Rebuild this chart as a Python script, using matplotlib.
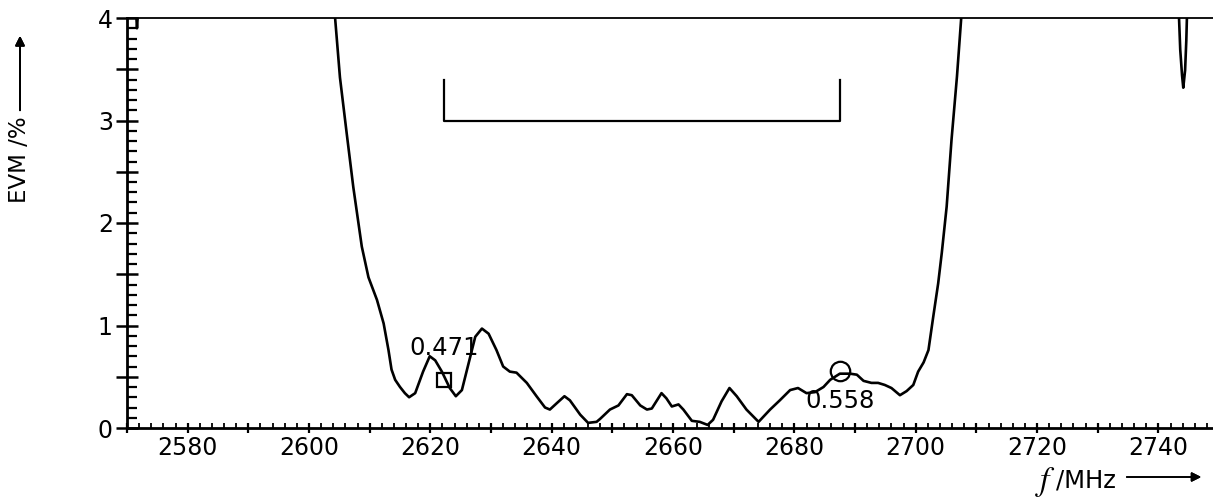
import matplotlib.pyplot as plt
from matplotlib.ticker import MultipleLocator

# ---------------- data ----------------
freq = [2604.3, 2605.1, 2606.2, 2607.3, 2608.7, 2609.8, 2611.2, 2612.3, 2613.1,
        2613.6, 2614.2, 2615.0, 2615.8, 2616.5, 2617.5, 2618.8, 2619.9, 2620.8,
        2621.9, 2623.2, 2624.2, 2625.2, 2626.3, 2627.4, 2628.5, 2629.6, 2630.9,
        2632.0, 2633.1, 2634.2, 2635.9, 2637.5, 2638.9, 2639.7, 2640.8, 2642.1,
        2643.0, 2644.7, 2646.0, 2647.4, 2648.0, 2649.6, 2651.0, 2652.4, 2653.2,
        2654.6, 2655.7, 2656.5, 2658.1, 2658.9, 2659.8, 2660.9, 2661.7, 2663.1,
        2664.4, 2665.7, 2666.6, 2668.0, 2669.3, 2670.5, 2672.1, 2674.1, 2676.0,
        2677.6, 2679.3, 2680.6, 2682.0, 2683.4, 2684.8, 2685.9, 2687.5, 2689.2,
        2690.3, 2691.4, 2692.7, 2693.8, 2694.9, 2696.0, 2697.4, 2698.5, 2699.6,
        2700.4, 2701.3, 2702.1, 2702.9, 2703.7, 2704.3, 2705.1, 2705.9, 2706.8,
        2707.5]
evm = [4.00, 3.42, 2.88, 2.35, 1.77, 1.47, 1.25, 1.02, 0.76,
       0.57, 0.47, 0.40, 0.34, 0.30, 0.34, 0.55, 0.70, 0.66,
       0.55, 0.39, 0.31, 0.37, 0.63, 0.89, 0.97, 0.92, 0.76,
       0.60, 0.55, 0.54, 0.44, 0.31, 0.20, 0.18, 0.24, 0.31,
       0.27, 0.13, 0.05, 0.06, 0.09, 0.18, 0.22, 0.33, 0.32,
       0.22, 0.18, 0.19, 0.34, 0.29, 0.21, 0.23, 0.18, 0.07,
       0.06, 0.03, 0.08, 0.26, 0.39, 0.31, 0.18, 0.06, 0.18,
       0.27, 0.37, 0.39, 0.34, 0.35, 0.40, 0.47, 0.53, 0.53,
       0.52, 0.46, 0.44, 0.44, 0.42, 0.39, 0.32, 0.36, 0.42,
       0.55, 0.64, 0.76, 1.09, 1.41, 1.71, 2.16, 2.81, 3.43,
       4.00]

# small pieces of the trace poking in at the top
left_freq = [2571.55, 2571.65, 2571.75]
left_evm = [4.00, 3.90, 4.00]
right_freq = [2743.4, 2743.6, 2743.9, 2744.1, 2744.4, 2744.6, 2744.7]
right_evm = [4.00, 3.69, 3.44, 3.32, 3.49, 3.78, 4.00]

marker_freq = [2622.25, 2687.5]
marker_evm = [0.471, 0.558]
marker_text = ['0.471', '0.558']
bracket_low = 3.0
bracket_high = 3.4

#################################
## figure
#################################
fig = plt.figure(figsize=(12.13, 5), dpi=100)
ax = fig.add_axes([127 / 1213, 72 / 500, 1086 / 1213, 410 / 500])

line_kw = dict(color='black', lw=1.9, solid_joinstyle='round', solid_capstyle='round')
ax.plot(freq, evm, **line_kw)
ax.plot(left_freq, left_evm, **line_kw)
ax.plot(right_freq, right_evm, **line_kw)

# markers
ax.plot(marker_freq[0], marker_evm[0], marker='s', ms=10, mfc='none',
        mec='black', mew=1.6)
ax.plot(marker_freq[1], marker_evm[1], marker='o', ms=14, mfc='none',
        mec='black', mew=1.6)
ax.text(marker_freq[0], 0.78, marker_text[0], ha='center', va='center', fontsize=17.5)
ax.text(marker_freq[1], 0.26, marker_text[1], ha='center', va='center', fontsize=17.5)

# bracket between the markers
ax.plot([marker_freq[0], marker_freq[0], marker_freq[1], marker_freq[1]],
        [bracket_high, bracket_low, bracket_low, bracket_high],
        color='black', lw=1.6)

#################################
## axes
#################################
ax.set_xlim(2570, 2749)
ax.set_ylim(0, 4)
ax.spines['right'].set_visible(False)
ax.spines['left'].set_linewidth(2)
ax.spines['bottom'].set_linewidth(2)
ax.spines['top'].set_linewidth(1.3)

ax.xaxis.set_minor_locator(MultipleLocator(2))
ax.set_xticks(range(2570, 2750, 10))
ax.set_xticklabels([str(v) if v % 20 == 0 else '' for v in range(2570, 2750, 10)])
ax.yaxis.set_minor_locator(MultipleLocator(0.1))
ax.set_yticks([i * 0.5 for i in range(9)])
ax.set_yticklabels([str(int(i * 0.5)) if i % 2 == 0 else '' for i in range(9)])

ax.tick_params(axis='x', which='major', direction='inout', length=7.5, width=1.6,
               labelsize=17, pad=2)
ax.tick_params(axis='x', which='minor', direction='in', length=3.6, width=1.3)
ax.tick_params(axis='y', which='major', direction='inout', length=16.5, width=1.8,
               labelsize=17, pad=2)
ax.tick_params(axis='y', which='minor', direction='in', length=7.2, width=1.6)

# axis labels with arrows
fig.text(20 / 1213, 1 - 160 / 500, 'EVM /%', rotation=90, ha='center', va='center',
         fontsize=16.5)
fig.add_artist(plt.annotate('', xy=(20 / 1213, 1 - 33 / 500), xytext=(20 / 1213, 1 - 113 / 500),
                            xycoords='figure fraction',
                            arrowprops=dict(arrowstyle='-|>', lw=1.4, color='black',
                                            mutation_scale=14)))
fig.text(1035 / 1213, 1 - 482 / 500, '$f$', ha='left', va='center', fontsize=24,
         math_fontfamily='stix')
fig.text(1116 / 1213, 1 - 480 / 500, '/MHz', ha='right', va='center', fontsize=17.5)
fig.add_artist(plt.annotate('', xy=(1204 / 1213, 1 - 477 / 500), xytext=(1124 / 1213, 1 - 477 / 500),
                            xycoords='figure fraction',
                            arrowprops=dict(arrowstyle='-|>', lw=1.2, color='black',
                                            mutation_scale=14)))

fig.savefig('out.png', dpi=100)
